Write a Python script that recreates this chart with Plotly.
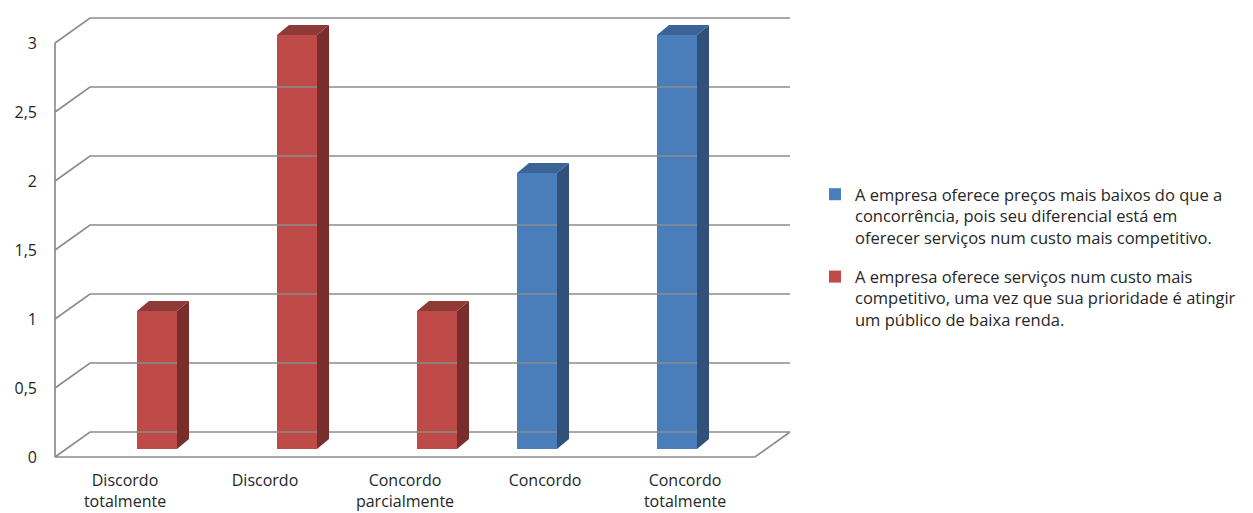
import plotly.graph_objects as go

# ---------------- data ----------------
categories = ["Discordo<br>totalmente", "Discordo", "Concordo<br>parcialmente", "Concordo", "Concordo<br>totalmente"]
series_names = [
    "A empresa oferece preços mais baixos do que a<br>concorrência, pois seu diferencial está em<br>oferecer serviços num custo mais competitivo.",
    "A empresa oferece serviços num custo mais<br>competitivo, uma vez que sua prioridade é atingir<br>um público de baixa renda.",
]
blue_values = [0, 0, 0, 2, 3]
red_values = [1, 3, 1, 0, 0]
y_tick_values = [0, 0.5, 1, 1.5, 2, 2.5, 3]
y_tick_labels = ["0", "0,5", "1", "1,5", "2", "2,5", "3"]

# ---------------- style / geometry ----------------
W, H = 1253, 513
ML, MR, MT, MB = 50, 453, 10, 50
X0_PX, X_STEP = 125.0, 140.0      # pixel of category 0, pixels per category
Y0_PX, Y_STEP = 457.0, 138.0      # pixel of value 0 (front plane), pixels per unit
xr = [(ML - X0_PX) / X_STEP, (W - MR - X0_PX) / X_STEP]
yr = [(Y0_PX - (H - MB)) / Y_STEP, (Y0_PX - MT) / Y_STEP]

DX, DY = 35 / X_STEP, 25 / Y_STEP          # wall depth
BFX, BFY = 12 / X_STEP, 8 / Y_STEP          # bar front plane offset
BDX, BDY = 12 / X_STEP, 10 / Y_STEP         # bar depth
BW = 40 / X_STEP                            # bar width
SLOT = [-BW / 2, BW / 2]                    # blue left, red right

n = len(categories)
x_left = -0.5
x_right = n - 0.5

colors = {
    "blue": ("#4A7EBB", "#31507A", "#3B6396"),
    "red": ("#BE4B48", "#7A2E2C", "#8E3A37"),
}
GRID = "#8C8C8C"
FONT = "Open Sans"
TXT = "#262626"

fig = go.Figure()

# gridlines in perspective (left wall + back wall)
gx, gy = [], []
for v in y_tick_values:
    gx += [x_left, x_left + DX, x_right + DX, None]
    gy += [v, v + DY, v + DY, None]
# floor outline and left front edge
gx += [x_left, x_right, x_right + DX, None, x_left, x_left]
gy += [0, 0, DY, None, 0, y_tick_values[-1]]
fig.add_trace(go.Scatter(x=gx, y=gy, mode="lines", line=dict(color=GRID, width=1.7),
                         hoverinfo="skip", showlegend=False))


def add_series(values, slot, name, cols, group, rank):
    front, side, top = cols
    xs, ys = [], []
    for i, v in enumerate(values):
        if v <= 0:
            continue
        xc = i + slot + BFX
        xs.append(xc)
        ys.append(v)
        xl, xrr = xc - BW / 2, xc + BW / 2
        b, t = BFY, BFY + v
        fig.add_trace(go.Scatter(x=[xrr, xrr + BDX, xrr + BDX, xrr, xrr],
                                 y=[b, b + BDY, t + BDY, t, b],
                                 fill="toself", fillcolor=side, mode="lines",
                                 line=dict(width=0, color=side),
                                 hoverinfo="skip", showlegend=False))
        fig.add_trace(go.Scatter(x=[xl, xl + BDX, xrr + BDX, xrr, xl],
                                 y=[t, t + BDY, t + BDY, t, t],
                                 fill="toself", fillcolor=top, mode="lines",
                                 line=dict(width=0, color=top),
                                 hoverinfo="skip", showlegend=False))
    fig.add_trace(go.Bar(x=xs, y=ys, base=[BFY] * len(xs), width=BW, name=name,
                         marker=dict(color=front, line=dict(width=0)),
                         legendgroup=group, legendrank=rank))


add_series(blue_values, SLOT[0], series_names[0], colors["blue"], "a", 1)
add_series(red_values, SLOT[1], series_names[1], colors["red"], "b", 2)

fig.update_layout(
    width=W, height=H,
    margin=dict(l=ML, r=MR, t=MT, b=MB),
    paper_bgcolor="white", plot_bgcolor="white",
    font=dict(family=FONT, size=16, color=TXT),
    barmode="overlay",
    showlegend=True,
    legend=dict(x=(815 - ML) / (W - MR - ML), xanchor="left",
                y=((H - MB) - 177) / (H - MB - MT), yanchor="top",
                valign="top", font=dict(size=16.5, family=FONT, color=TXT),
                tracegroupgap=15, bgcolor="rgba(0,0,0,0)"),
    xaxis=dict(range=xr, tickvals=list(range(n)), ticktext=categories,
               showgrid=False, zeroline=False, showline=False, ticks="",
               ticklabelstandoff=6, automargin=False, fixedrange=True),
    yaxis=dict(range=yr, tickvals=y_tick_values, ticktext=y_tick_labels,
               showgrid=False, zeroline=False, showline=False, ticks="",
               ticklabelstandoff=12, automargin=False, fixedrange=True),
)

fig.write_html("out.html")
